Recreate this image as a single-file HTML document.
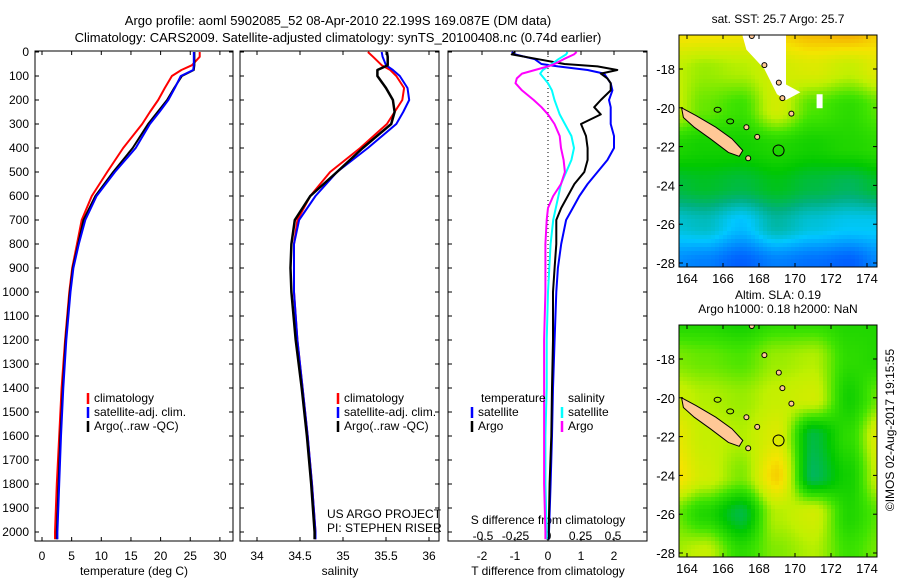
<!DOCTYPE html>
<html><head><meta charset="utf-8"><style>
html,body{margin:0;padding:0;background:#fff;width:900px;height:580px;overflow:hidden;}
svg{display:block;font-family:"Liberation Sans",sans-serif;}
text{fill:#000;}
</style></head><body>
<svg id="chart" width="900" height="580" viewBox="0 0 900 580" xmlns="http://www.w3.org/2000/svg">
<defs>
<clipPath id="c1"><rect x="679" y="35" width="198" height="232"/></clipPath>
<clipPath id="c2"><rect x="679" y="325" width="198" height="232"/></clipPath>
</defs>
<text x="338" y="25" font-size="13" text-anchor="middle">Argo profile: aoml 5902085_52 08-Apr-2010 22.199S 169.087E (DM data)</text>
<text x="338" y="42" font-size="13" text-anchor="middle">Climatology: CARS2009. Satellite-adjusted climatology: synTS_20100408.nc (0.74d earlier)</text>
<g id="g"></g>
</svg>
<script>
const depth=[0,20,55,75,100,150,200,250,300,400,500,600,700,800,900,1000,1200,1400,1600,1800,2000,2030];
const tempArgo=[25.7,25.7,25.7,25.6,23.6,22.3,21.1,19.5,17.9,15.3,12,9,7,6.1,5.2,4.7,4.0,3.5,3.1,2.8,2.5,2.5];
const tempClim=[26.6,26.6,25.3,23.5,21.9,20.7,19.6,18.2,16.9,13.7,11,8.4,6.7,5.9,5.1,4.6,3.9,3.3,2.9,2.5,2.2,2.2];
const tempSat=[25.6,25.6,25.6,25.5,23.4,22.4,21.3,19.8,18.2,15.8,12.3,9.2,7.3,6.2,5.3,4.8,4.1,3.6,3.2,2.9,2.6,2.6];
const salArgo=[35.51,35.52,35.52,35.4,35.4,35.5,35.58,35.6,35.56,35.23,34.93,34.62,34.44,34.4,34.39,34.4,34.45,34.52,34.58,34.63,34.67,34.67];
const salClim=[35.29,35.35,35.45,35.55,35.62,35.71,35.69,35.6,35.51,35.2,34.85,34.62,34.47,34.43,34.43,34.43,34.47,34.53,34.59,34.64,34.68,34.68];
const salSat=[35.45,35.46,35.5,35.58,35.66,35.75,35.77,35.7,35.62,35.29,34.93,34.68,34.49,34.43,34.43,34.43,34.47,34.53,34.59,34.64,34.68,34.68];
const dDepth=[0,10,30,50,60,75,90,110,130,160,200,230,260,300,350,400,450,500,550,600,650,700,800,900,1000,1200,1400,1600,1800,2000,2030];
const tDiffArgo=[-1,-1.1,-0.3,0.5,1.5,2.1,1.6,1.8,1.9,1.9,1.6,1.4,1.6,1.0,1.15,1.2,1.2,1.1,0.8,0.6,0.4,0.25,0.25,0.2,0.15,0.15,0.12,0.1,0.05,0.02,0.02];
const tDiffSat=[-1.1,-1.0,-0.4,-0.2,0.3,1.2,1.7,1.8,1.9,1.95,1.85,1.9,1.9,1.9,2.0,2.0,1.8,1.5,1.2,0.95,0.75,0.55,0.4,0.3,0.25,0.2,0.15,0.12,0.08,0.03,0.03];
const sDiffSat=[0.15,0.14,0.08,0.03,0.0,-0.04,-0.06,-0.03,0.0,0.03,0.05,0.07,0.09,0.13,0.18,0.2,0.18,0.14,0.1,0.08,0.06,0.04,0.02,0.01,0.0,-0.01,-0.01,-0.02,-0.02,-0.01,-0.01];
const sDiffArgo=[0.22,0.2,0.12,0.05,0.0,-0.1,-0.2,-0.24,-0.25,-0.2,-0.11,-0.05,0.0,0.05,0.09,0.1,0.12,0.13,0.1,0.04,0.0,-0.01,-0.02,-0.02,-0.02,-0.03,-0.03,-0.03,-0.03,-0.02,-0.02];
const depthTicks=[0,100,200,300,400,500,600,700,800,900,1000,1100,1200,1300,1400,1500,1600,1700,1800,1900,2000];
const tempTicks=[0,5,10,15,20,25,30];
const salTicks=[34,34.5,35,35.5,36];
const tdTicks=[-2,-1,0,1,2];
const sdTicks=[-0.5,-0.25,0,0.25,0.5];
const sdTickLabels=["-0.5","-0.25","0","0.25","0.5"];
const lonTicks=[164,166,168,170,172,174];
const latTicks=[-18,-20,-22,-24,-26,-28];
const sstGrid=[
[0.86,0.86,0.85,0.88,0.92,0.94,0.88],
[0.76,0.72,0.74,0.78,0.8,0.76,0.82],
[0.78,0.68,0.64,0.78,0.66,0.62,0.68],
[0.6,0.58,0.58,0.6,0.58,0.6,0.62],
[0.5,0.52,0.5,0.53,0.5,0.48,0.52],
[0.38,0.4,0.34,0.42,0.38,0.36,0.36],
[0.28,0.26,0.22,0.26,0.24,0.22,0.28],
[0.2,0.22,0.12,0.08,0.1,0.18,0.22]];
const slaGrid=[
[0.6,0.6,0.58,0.62,0.62,0.6,0.6],
[0.7,0.68,0.66,0.72,0.74,0.62,0.6],
[0.78,0.74,0.72,0.76,0.78,0.58,0.7],
[0.84,0.76,0.74,0.8,0.5,0.62,0.84],
[0.88,0.78,0.7,0.88,0.48,0.58,0.8],
[0.7,0.6,0.5,0.74,0.78,0.6,0.68],
[0.72,0.76,0.62,0.7,0.74,0.64,0.7],
[0.72,0.76,0.62,0.7,0.74,0.64,0.7]];
const NS="http://www.w3.org/2000/svg";
const G=document.getElementById('g');
function el(tag,attrs,parent){const e=document.createElementNS(NS,tag);for(const k in attrs)e.setAttribute(k,attrs[k]);(parent||G).appendChild(e);return e;}
const TOP=52,BOT=541;
const yD=d=>TOP+d*0.24;
const xT=v=>42+v*5.93;
const xS=v=>257+(v-34)*86;
const xTD=v=>548+v*33;
const xSD=v=>548+v*130;
const panels=[{x:35,w:198,n:'temperature-panel'},{x:240,w:199,n:'salinity-panel'},{x:448,w:199,n:'difference-panel'}];
panels.forEach(p=>{
 const g=el('g',{});
 
 
 el('rect',{x:p.x,y:TOP-1,width:p.w,height:BOT-TOP+1,fill:'none',stroke:'#000','stroke-width':1},g);
 depthTicks.forEach(d=>{const y=yD(d);
  el('line',{x1:p.x,x2:p.x+4,y1:y,y2:y,stroke:'#000'},g);
  el('line',{x1:p.x+p.w-4,x2:p.x+p.w,y1:y,y2:y,stroke:'#000'},g);});
 p.g=g;
});
depthTicks.forEach(d=>{const t=el('text',{x:29,y:yD(d)+4,'font-size':12,'text-anchor':'end'});t.textContent=d;
 });
function xticks(arr,fx,labels,yl,p){arr.forEach((v,i)=>{const x=fx(v);
 el('line',{x1:x,x2:x,y1:BOT,y2:BOT-4,stroke:'#000'},p.g);
 el('line',{x1:x,x2:x,y1:TOP-1,y2:TOP+3,stroke:'#000'},p.g);
 if(yl){const t=el('text',{x:x,y:yl,'font-size':12,'text-anchor':'middle'});t.textContent=labels?labels[i]:v;
 }});}
xticks(tempTicks,xT,null,560,panels[0]);
xticks(salTicks,xS,null,560,panels[1]);
xticks(tdTicks,xTD,null,560,panels[2]);
sdTicks.forEach((v,i)=>{const t=el('text',{x:xSD(v),y:540,'font-size':12,'text-anchor':'middle'});t.textContent=sdTickLabels[i];
 });
function label(txt,x,y,name,anchor,size){const t=el('text',{x:x,y:y,'font-size':size||12,'text-anchor':anchor||'middle'});t.textContent=txt;
 return t;}
label('temperature (deg C)',134,575,'temperature-axis-title');
label('salinity',340,575,'salinity-axis-title');
label('T difference from climatology',548,575,'t-diff-axis-title');
label('S difference from climatology',548,524,'s-diff-axis-title');
label('US ARGO PROJECT',327,518,'project-label','start');
label('PI: STEPHEN RISER',327,532,'pi-label','start');
el('line',{x1:548,x2:548,y1:TOP,y2:300,stroke:'#000','stroke-dasharray':'1,3'},panels[2].g);
function line(xs,ds,fx,color,name,w){const pts=xs.map((v,i)=>fx(v).toFixed(1)+','+yD(ds[i]).toFixed(1)).join(' ');
 const pl=el('polyline',{points:pts,fill:'none',stroke:color,'stroke-width':w||2,'stroke-linejoin':'round'});
 }
line(tempClim,depth,xT,'#f00','temp-climatology-line');
line(tempArgo,depth,xT,'#000','temp-argo-line',2);
line(tempSat,depth,xT,'#00f','temp-satellite-line');
line(salClim,depth,xS,'#f00','sal-climatology-line');
line(salSat,depth,xS,'#00f','sal-satellite-line');
line(salArgo,depth,xS,'#000','sal-argo-line',2.5);
line(tDiffSat,dDepth,xTD,'#00f','t-diff-satellite-line');
line(tDiffArgo,dDepth,xTD,'#000','t-diff-argo-line');
line(sDiffSat,dDepth,xSD,'#0ff','s-diff-satellite-line');
line(sDiffArgo,dDepth,xSD,'#f0f','s-diff-argo-line');
function legend(x,y,items,name){items.forEach((it,i)=>{const yy=y+i*14;
 el('line',{x1:x,x2:x,y1:yy-9,y2:yy+2,stroke:it[1],'stroke-width':2.5});
 label(it[0],x+6,yy,name,'start');});}
legend(88,402,[['climatology','#f00'],['satellite-adj. clim.','#00f'],['Argo(..raw -QC)','#000']],'temp-legend-entry');
legend(338,402,[['climatology','#f00'],['satellite-adj. clim.','#00f'],['Argo(..raw -QC)','#000']],'sal-legend-entry');
label('temperature',481,402,'t-legend-header','start');
label('salinity',568,402,'s-legend-header','start');
legend(472,416,[['satellite','#00f'],['Argo','#000']],'t-diff-legend-entry');
legend(562,416,[['satellite','#0ff'],['Argo','#f0f']],'s-diff-legend-entry');
const stops=[[0,[0,0,143]],[0.2,[0,80,255]],[0.35,[0,200,255]],[0.45,[0,176,128]],[0.55,[0,200,0]],[0.65,[64,228,0]],[0.75,[192,240,0]],[0.85,[245,228,0]],[0.95,[245,165,0]]];
function cmap(v){for(let i=1;i<stops.length;i++){if(v<=stops[i][0]){const a=stops[i-1],b=stops[i],f=(v-a[0])/(b[0]-a[0]);
 return 'rgb('+a[1].map((c,k)=>Math.round(c+(b[1][k]-c)*f)).join(',')+')';}}return 'rgb(245,165,0)';}
function sample(grid,lon,lat){
 let fc=(lon-163)/2, fr=(-16-lat)/2;
 fc=Math.max(0,Math.min(grid[0].length-1.0001,fc)); fr=Math.max(0,Math.min(grid.length-1.0001,fr));
 const c=Math.floor(fc),r=Math.floor(fr),a=fc-c,b=fr-r;
 const s=t=>t*t*(3-2*t); const A=s(a),B=s(b);
 return (grid[r][c]*(1-A)+grid[r][c+1]*A)*(1-B)+(grid[r+1][c]*(1-A)+grid[r+1][c+1]*A)*B;}
function drawMap(top,grid,clip,name,title1,title2,missing){
 const lx=v=>687+(v-164)*18, ly=v=>top+34+(-18-v)*19.4;
 const ilon=x=>164+(x-687)/18, ilat=y=>-18-(y-top-34)/19.4;
 const g=el('g',{});
 const cg=el('g',{'clip-path':'url(#'+clip+')'},g);
 const step=4;
 for(let x=679;x<877;x+=step)for(let y=top;y<top+232;y+=step){
  el('rect',{x:x,y:y,width:step+0.5,height:step+0.5,fill:cmap(sample(grid,ilon(x+2),ilat(y+2)))},cg);}
 if(missing){el('polygon',{points:[[167,-16],[169.5,-16],[169.5,-18.8],[170.3,-19.2],[169.5,-19.6],[169,-19.3],[168.3,-18],[167.3,-17]].map(p=>lx(p[0])+','+ly(p[1])).join(' '),fill:'#fff'},cg);
  el('rect',{x:lx(171.2),y:ly(-19.3),width:6,height:14,fill:'#fff'},cg);}
 const land='#ffc896';
 el('polygon',{points:[[163.7,-20],[164.5,-20.4],[165.6,-21],[166.5,-21.6],[167.1,-22.2],[166.9,-22.5],[166.3,-22.3],[165.3,-21.6],[164.4,-21],[163.8,-20.5]].map(p=>lx(p[0])+','+ly(p[1])).join(' '),fill:land,stroke:'#000','stroke-width':1},cg);
 [[167.3,-21],[167.9,-21.5],[167.4,-22.6],[168.3,-17.8],[169.1,-18.7],[169.3,-19.5],[167.6,-16.3],[169.8,-20.3]].forEach(p=>el('ellipse',{cx:lx(p[0]),cy:ly(p[1]),rx:2.5,ry:2.5,fill:land,stroke:'#000'},cg));
 [[165.7,-20.1],[166.4,-20.7]].forEach(p=>el('ellipse',{cx:lx(p[0]),cy:ly(p[1]),rx:3.5,ry:2.5,fill:'none',stroke:'#000'},cg));
 el('circle',{cx:lx(169.087),cy:ly(-22.199),r:5.5,fill:'none',stroke:'#000'},g);
 el('rect',{x:679,y:top,width:198,height:232,fill:'none',stroke:'#000'},g);
 lonTicks.forEach(v=>{const x=lx(v);el('line',{x1:x,x2:x,y1:top+232,y2:top+228,stroke:'#000'},g);el('line',{x1:x,x2:x,y1:top,y2:top+4,stroke:'#000'},g);
  label(String(v),x,top+248,'map-lon-label','middle',13);});
 latTicks.forEach(v=>{const y=ly(v);el('line',{x1:679,x2:683,y1:y,y2:y,stroke:'#000'},g);el('line',{x1:873,x2:877,y1:y,y2:y,stroke:'#000'},g);
  label(String(v),675,y+5,'map-lat-label','end',13);});
 label(title1,778,top-12,name+'-title','middle',12);
 if(title2)label(title2,778,top-26,name+'-title','middle',12);
}
drawMap(35,sstGrid,'c1','sst-map','sat. SST: 25.7 Argo: 25.7',null,true);
drawMap(325,slaGrid,'c2','sla-map','Argo h1000: 0.18 h2000: NaN','Altim. SLA: 0.19',false);
const cr=label('©IMOS 02-Aug-2017 19:15:55',0,0,'timestamp-label','middle',12);
cr.setAttribute('transform','translate(894,430) rotate(-90)');
</script>
</body></html>
